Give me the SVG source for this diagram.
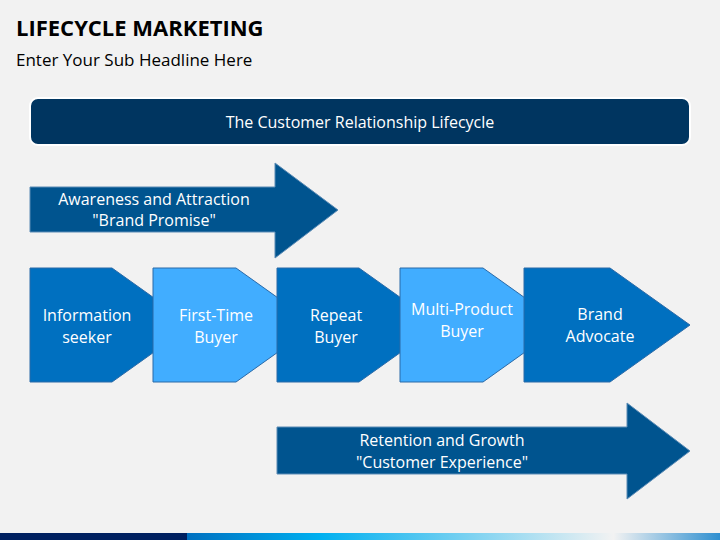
<svg xmlns="http://www.w3.org/2000/svg" width="720" height="540" viewBox="0 0 720 540">
<defs>
<style>
text{font-family:"Open Sans","Noto Sans","Liberation Sans",sans-serif;fill:#fff;text-anchor:middle}
.d{fill:#0070c0;stroke:#2a6aa8;stroke-width:1}
.l{fill:#41adff;stroke:#2a6aa8;stroke-width:1}
.a{fill:#00548f;stroke:#5b8bb5;stroke-width:1}
.t{font-size:16px}
</style>
<linearGradient id="g" x1="0" x2="1" y1="0" y2="0">
<stop offset="0" stop-color="#0070c0"/><stop offset="0.25" stop-color="#00b0f0"/><stop offset="0.8" stop-color="#f2f2f2"/><stop offset="1" stop-color="#2e8fd0"/>
</linearGradient>
</defs>
<rect width="720" height="540" fill="#f2f2f2"/>
<text x="16" y="36" style="font-size:22px;font-weight:bold;fill:#000;text-anchor:start;font-family:'Open Sans','Liberation Sans',sans-serif">LIFECYCLE MARKETING</text>
<text x="16" y="66" style="font-size:17px;fill:#000;text-anchor:start">Enter Your Sub Headline Here</text>
<g id="header"><rect x="30" y="98" width="660" height="47" rx="8" fill="#003560" stroke="#fff" stroke-width="2"/><text x="360" y="128" class="t">The Customer Relationship Lifecycle</text></g>
<g id="awareness"><polygon class="a" points="30,187 275,187 275,163 338,210 275,258 275,232 30,232"/><text x="154" y="205" class="t">Awareness and Attraction</text><text x="154" y="226" class="t">"Brand Promise"</text></g>
<g id="n1"><polygon class="d" points="30,268 112,268 192,325 112,382 30,382"/><text x="87" y="321" class="t">Information</text><text x="87" y="343" class="t">seeker</text></g>
<g id="n2"><polygon class="l" points="153,268 236,268 316,325 236,382 153,382"/><text x="216" y="321" class="t">First-Time</text><text x="216" y="343" class="t">Buyer</text></g>
<g id="n3"><polygon class="d" points="277,268 359,268 439,325 359,382 277,382"/><text x="336" y="321" class="t">Repeat</text><text x="336" y="343" class="t">Buyer</text></g>
<g id="n4"><polygon class="l" points="400,268 483,268 563,325 483,382 400,382"/><text x="462" y="315" class="t">Multi-Product</text><text x="462" y="337" class="t">Buyer</text></g>
<g id="n5"><polygon class="d" points="524,268 610,268 690,325 610,382 524,382"/><text x="600" y="320" class="t">Brand</text><text x="600" y="342" class="t">Advocate</text></g>
<g id="retention"><polygon class="a" points="277,427 627,427 627,403 690,451 627,499 627,474 277,474"/><text x="442" y="446" class="t">Retention and Growth</text><text x="442" y="468" class="t">"Customer Experience"</text></g>
<g id="connectors"/>
<rect x="0" y="533" width="187" height="7" fill="#002060"/>
<rect x="187" y="533" width="533" height="7" fill="url(#g)"/>
</svg>
